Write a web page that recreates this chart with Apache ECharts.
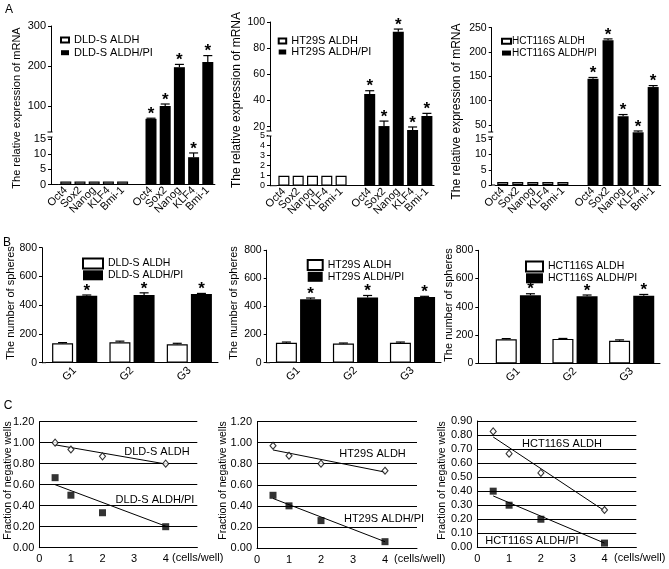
<!DOCTYPE html>
<html><head><meta charset="utf-8">
<script src="https://cdn.jsdelivr.net/npm/echarts@6/dist/echarts.min.js"></script>
<style>html,body{margin:0;padding:0;background:#fff}#c{width:669px;height:569px}</style>
</head><body><div id="c"></div>
<script>
const FONT = '"Liberation Sans", Arial, Helvetica, sans-serif';

// ---------- Panel A: relative mRNA expression ----------
const genes = ['Oct4','Sox2','Nanog','KLF4','Bmi-1'];
const dldAldhA = [1,1,1,1,1];
const dldPiA = [68,100,197,9,210];
const dldPiAErr = [1.5,5,7,1.4,16];
const ht29AldhA = [1,1,1,1,1];
const ht29PiA = [45,20.5,92.6,17.5,28.2];
const ht29PiAErr = [2.5,3.8,2,2.3,2];
const hctAldhA = [1,1,1,1,1];
const hctPiA = [145,224,68,35,128];
const hctPiAErr = [2.7,3,3.5,2.7,3];
const ticksA1Up = [100,200,300], ticksA1Low = [0,5,10,15];
const ticksA2Up = [20,40,60,80,100], ticksA2Low = [0,1,2,3,4,5];
const ticksA3Up = [50,100,150,200,250], ticksA3Low = [0,5,10,15];

// ---------- Panel B: number of spheres ----------
const groups = ['G1','G2','G3'];
const dldAldhB = [135,142,128], dldAldhBErr = [5,8,7];
const dldPiB = [466,471,478], dldPiBErr = [5,15,4];
const ht29AldhB = [142,136,142], ht29AldhBErr = [5,4,5];
const ht29PiB = [452,463,468], ht29PiBErr = [8,15,4];
const hctAldhB = [171,174,161], hctAldhBErr = [5,3,6];
const hctPiB = [483,476,478], hctPiBErr = [10,8,10];

// ---------- Panel C: limiting dilution ----------
const cellsPerWell = [0.5,1,2,4];
const dldAldhC = [1.00,0.935,0.87,0.80];
const dldPiC = [0.667,0.50,0.333,0.20];
const dldAldhFit = [[0.5,0.98],[4,0.797]];
const dldPiFit = [[0.5,0.60],[4,0.205]];
const ht29AldhC = [0.97,0.875,0.80,0.733];
const ht29PiC = [0.50,0.40,0.26,0.06];
const ht29AldhFit = [[0.5,0.93],[4,0.72]];
const ht29PiFit = [[0.5,0.47],[4,0.06]];
const hctAldhC = [0.826,0.667,0.53,0.266];
const hctPiC = [0.40,0.30,0.20,0.03];
const hctAldhFit = [[0.5,0.786],[4,0.26]];
const hctPiFit = [[0.5,0.366],[4,0.03]];

const grids = [], xAxes = [], yAxes = [], series = [], legends = [], graphics = [];
const BLACK = '#000';
const whiteStyle = {color:'#fff', borderColor:BLACK, borderWidth:1.2};
const blackStyle = {color:BLACK};
const pad = n => Array(n).fill('-');

function txt(x, y, text, fs, opts) {
  opts = opts || {};
  graphics.push({type:'text', x, y, rotation: opts.rot || 0, z:100,
    style:{text, fontSize:fs, fontFamily:FONT, fill:BLACK, align: opts.align || 'center', verticalAlign:'middle', fontWeight: opts.bold ? 'bold' : 'normal'}});
}
function hline(x1, x2, y) {
  graphics.push({type:'line', z:100, shape:{x1, y1:y, x2, y2:y}, style:{stroke:BLACK, lineWidth:1}});
}

function errSeries(xi, yi, data, dx, star) {
  return {type:'custom', xAxisIndex:xi, yAxisIndex:yi, data, z:5, silent:true, encode:{x:0, y:1},
    renderItem: (params, api) => {
      const v = api.value(1), e = api.value(2);
      const p0 = api.coord([api.value(0), v]);
      const p1 = api.coord([api.value(0), v + e]);
      const cx = p0[0] + dx;
      const ch = [
        {type:'line', shape:{x1:cx, y1:p0[1], x2:cx, y2:p1[1]}, style:{stroke:BLACK, lineWidth:1.2}},
        {type:'line', shape:{x1:cx-4.5, y1:p1[1], x2:cx+4.5, y2:p1[1]}, style:{stroke:BLACK, lineWidth:1.2}}
      ];
      if (star) ch.push({type:'text', x:cx, y:p1[1]-4, style:{text:'*', fontSize:17, fontWeight:'bold', fontFamily:FONT, fill:BLACK, align:'center', verticalAlign:'middle'}});
      return {type:'group', children:ch};
    }};
}

function yStyle(ticks, fs) {
  return {axisLine:{show:true, lineStyle:{color:BLACK, width:1}},
    axisTick:{show:true, length:3, customValues:ticks, lineStyle:{color:BLACK}},
    axisLabel:{customValues:ticks, fontSize:fs, color:BLACK, margin:5, fontFamily:FONT,
      formatter: v => ticks.indexOf(v) >= 0 ? String(v) : ''},
    splitLine:{show:false}};
}

function buildA(c) {
  const cats = genes.concat([''], genes);
  const gU = grids.push({left:c.left, top:c.top, width:c.width, height:c.brk-c.top, outerBoundsMode:'none'}) - 1;
  const gL = grids.push({left:c.left, top:c.brk, width:c.width, height:c.bottom-c.brk, outerBoundsMode:'none'}) - 1;
  const xU = xAxes.push({gridIndex:gU, type:'category', data:cats, show:false}) - 1;
  const xL = xAxes.push({gridIndex:gL, type:'category', data:cats,
    axisLine:{lineStyle:{color:BLACK, width:1}}, axisTick:{show:false},
    axisLabel:{interval:0, rotate:45, margin:4, fontSize:11, color:BLACK, fontFamily:FONT}}) - 1;
  const off = c.left - c.axisX;
  const yU = yAxes.push(Object.assign({gridIndex:gU, type:'value', min:c.upMin, max:c.upMax, offset:off}, yStyle(c.upTicks, c.fs))) - 1;
  const yL = yAxes.push(Object.assign({gridIndex:gL, type:'value', min:0, max:c.lowMax, offset:off}, yStyle(c.lowTicks, c.fsLow || c.fs))) - 1;
  series.push({type:'bar', name:c.names[0], xAxisIndex:xL, yAxisIndex:yL, data:c.white.concat(pad(6)), barWidth:11, barGap:'-100%', itemStyle:whiteStyle, clip:true});
  series.push({type:'bar', name:c.names[1], xAxisIndex:xL, yAxisIndex:yL, data:pad(6).concat(c.black), barWidth:11, barGap:'-100%', itemStyle:blackStyle, clip:true});
  series.push({type:'bar', name:c.names[1], xAxisIndex:xU, yAxisIndex:yU, data:pad(6).concat(c.black.map(v => v > c.upMin ? v : '-')), barWidth:11, itemStyle:blackStyle, clip:true});
  const eU = [], eL = [];
  c.black.forEach((v, i) => (v > c.upMin ? eU : eL).push([6 + i, v, c.err[i]]));
  series.push(errSeries(xU, yU, eU, 0, true));
  series.push(errSeries(xL, yL, eL, 0, true));
  legends.push(Object.assign({data:c.names, orient:'vertical', icon:'rect', selectedMode:false, itemGap:c.lg.gap,
    itemWidth:c.lg.w, itemHeight:c.lg.h, left:c.lg.left, top:c.lg.top,
    textStyle:{fontSize:c.lg.fs, lineHeight:c.lg.lh, color:BLACK, fontFamily:FONT, padding:c.lg.pad || 0}}));
  // x axis line reaching the y axis, and the axis break marks
  hline(c.axisX, c.left, c.bottom);
  graphics.push({type:'rect', z:99, shape:{x:c.axisX-2, y:c.brk-2, width:4, height:5}, style:{fill:'#fff'}});
  hline(c.axisX-3.5, c.axisX+1.5, c.brk-2);
  hline(c.axisX-3.5, c.axisX+1.5, c.brk+3);
  txt(c.nameX, c.nameY, 'The relative expression of mRNA', c.nameFs, {rot:Math.PI/2});
}

function buildB(c) {
  const g = grids.push({left:c.left, top:c.top, width:c.width, height:c.bottom-c.top, outerBoundsMode:'none'}) - 1;
  const x = xAxes.push({gridIndex:g, type:'category', data:groups,
    axisLine:{lineStyle:{color:BLACK, width:1}}, axisTick:{show:false},
    axisLabel:{interval:0, rotate:45, margin:6, fontSize:11, color:BLACK, fontFamily:FONT}}) - 1;
  const y = yAxes.push({gridIndex:g, type:'value', min:0, max:800, interval:200, offset:c.left-c.axisX,
    axisLine:{show:true, lineStyle:{color:BLACK, width:1}}, axisTick:{show:true, length:3, lineStyle:{color:BLACK}},
    axisLabel:{fontSize:10.5, color:BLACK, margin:5, fontFamily:FONT}, splitLine:{show:false}}) - 1;
  series.push({type:'bar', name:c.names[0], xAxisIndex:x, yAxisIndex:y, data:c.white, barWidth:21, barGap:'15%', itemStyle:whiteStyle});
  series.push({type:'bar', name:c.names[1], xAxisIndex:x, yAxisIndex:y, data:c.black, barWidth:21, barGap:'15%', itemStyle:blackStyle});
  series.push(errSeries(x, y, c.white.map((v, i) => [i, v, c.whiteErr[i]]), -12.1, false));
  series.push(errSeries(x, y, c.black.map((v, i) => [i, v, c.blackErr[i]]), 12.1, true));
  legends.push({data:c.names, orient:'vertical', icon:'rect', selectedMode:false, itemGap:0.3,
    itemWidth:c.lg.w, itemHeight:10, left:c.lg.left, top:c.lg.top,
    textStyle:{fontSize:10.5, lineHeight:11, color:BLACK, fontFamily:FONT}});
  hline(c.axisX, c.left, c.bottom);
  txt(c.nameX, c.nameY, 'The number of spheres', 11, {rot:Math.PI/2});
}

function buildC(c) {
  const g = grids.push({left:c.left, top:c.top, width:c.width, height:c.bottom-c.top, outerBoundsMode:'none'}) - 1;
  const x = xAxes.push({gridIndex:g, type:'value', min:0, max:5, interval:1,
    axisLine:{show:true, lineStyle:{color:BLACK, width:1}}, axisTick:{show:false}, splitLine:{show:false},
    axisLabel:{fontSize:11, color:BLACK, margin:6, fontFamily:FONT, formatter: v => v <= 4 ? String(v) : ''}}) - 1;
  const y = yAxes.push({gridIndex:g, type:'value', min:0, max:c.ymax, interval:c.step,
    axisLine:{show:true, lineStyle:{color:BLACK, width:1}}, axisTick:{show:false},
    axisLabel:{fontSize:11, color:BLACK, margin:5, fontFamily:FONT, formatter: v => v.toFixed(2)},
    splitLine:{show:true, lineStyle:{color:BLACK, width:1}}}) - 1;
  const line = d => ({type:'line', xAxisIndex:x, yAxisIndex:y, data:d, symbol:'none', silent:true, lineStyle:{color:BLACK, width:1}, z:3});
  series.push(line(c.aldhFit), line(c.piFit));
  series.push({type:'scatter', xAxisIndex:x, yAxisIndex:y, data:cellsPerWell.map((v, i) => [v, c.aldh[i]]), symbol:'diamond', symbolSize:[6,7], itemStyle:{color:'#fff', borderColor:BLACK, borderWidth:1.1}, z:4});
  series.push({type:'scatter', xAxisIndex:x, yAxisIndex:y, data:cellsPerWell.map((v, i) => [v, c.pi[i]]), symbol:'rect', symbolSize:7, itemStyle:{color:BLACK}, z:4});
  txt(c.lab1[0], c.lab1[1], c.lab1[2], 11);
  txt(c.lab2[0], c.lab2[1], c.lab2[2], 11);
  txt(c.unitX, c.bottom + 10.5, '(cells/well)', 11, {align:'left'});
  txt(c.nameX, c.nameY, 'Fraction of negative wells', 10.5, {rot:Math.PI/2});
}

buildA({axisX:51, left:58.7, width:156.2, top:26, brk:134, bottom:184.5, upMin:30, upMax:300, lowMax:16.65,
  upTicks:ticksA1Up, lowTicks:ticksA1Low, fs:11, names:['DLD-S ALDH','DLD-S ALDH/PI'],
  white:dldAldhA, black:dldPiA, err:dldPiAErr, nameX:16.5, nameY:108, nameFs:11,
  lg:{left:55, top:29, w:8, h:5, fs:11, lh:12, gap:0.7}});
buildA({axisX:270, left:276.75, width:157.3, top:22, brk:133, bottom:185.7, upMin:15.2, upMax:100, lowMax:5.27,
  upTicks:ticksA2Up, lowTicks:ticksA2Low, fs:10.5, fsLow:9, names:['HT29S ALDH','HT29S ALDH/PI'],
  white:ht29AldhA, black:ht29PiA, err:ht29PiAErr, nameX:236.5, nameY:100, nameFs:12,
  lg:{left:272.7, top:30.5, w:7.5, h:5, fs:11, lh:8, gap:0}});
buildA({axisX:491.7, left:495.2, width:165.5, top:27.7, brk:134, bottom:185, upMin:31.5, upMax:250, lowMax:16.74,
  upTicks:ticksA3Up, lowTicks:ticksA3Low, fs:10.5, names:['HCT116S ALDH','HCT116S ALDH/PI'],
  white:hctAldhA, black:hctPiA, err:hctPiAErr, nameX:456.7, nameY:111.5, nameFs:12,
  lg:{left:496, top:30.5, w:9, h:5, fs:10, lh:11.7, gap:0, pad:[0,0,0,-4]}});

buildB({axisX:42, left:46, width:172, top:247.7, bottom:362.7, names:['DLD-S ALDH','DLD-S ALDH/PI'],
  white:dldAldhB, whiteErr:dldAldhBErr, black:dldPiB, blackErr:dldPiBErr, nameX:11, nameY:303,
  lg:{left:77, top:252.5, w:20}});
buildB({axisX:266.7, left:270, width:171, top:250.2, bottom:362.7, names:['HT29S ALDH','HT29S ALDH/PI'],
  white:ht29AldhB, whiteErr:ht29AldhBErr, black:ht29PiB, blackErr:ht29PiBErr, nameX:233.5, nameY:303,
  lg:{left:301.7, top:254, w:15}});
buildB({axisX:478.3, left:490, width:170, top:250.3, bottom:363.5, names:['HCT116S ALDH','HCT116S ALDH/PI'],
  white:hctAldhB, whiteErr:hctAldhBErr, black:hctPiB, blackErr:hctPiBErr, nameX:448.5, nameY:305,
  lg:{left:520, top:255.5, w:17}});

buildC({left:39.3, width:158, top:421.7, bottom:547.7, ymax:1.2, step:0.2, aldh:dldAldhC, pi:dldPiC,
  aldhFit:dldAldhFit, piFit:dldPiFit, lab1:[157,452.3,'DLD-S ALDH'], lab2:[155,500,'DLD-S ALDH/PI'],
  unitX:172, nameX:8, nameY:480.5});
buildC({left:257, width:160, top:421.5, bottom:548, ymax:1.2, step:0.2, aldh:ht29AldhC, pi:ht29PiC,
  aldhFit:ht29AldhFit, piFit:ht29PiFit, lab1:[372.5,454,'HT29S ALDH'], lab2:[384,519.3,'HT29S ALDH/PI'],
  unitX:394, nameX:223.5, nameY:480.5});
buildC({left:477.3, width:159, top:421, bottom:547.3, ymax:0.9, step:0.1, aldh:hctAldhC, pi:hctPiC,
  aldhFit:hctAldhFit, piFit:hctPiFit, lab1:[562,444,'HCT116S ALDH'], lab2:[532,541,'HCT116S ALDH/PI'],
  unitX:614, nameX:442.5, nameY:480.5});

txt(9, 10, 'A', 12);
txt(7, 243, 'B', 12);
txt(8, 406, 'C', 12);

const chart = echarts.init(document.getElementById('c'), null, {renderer:'canvas'});
chart.setOption({
  animation:false,
  backgroundColor:'#fff',
  textStyle:{fontFamily:FONT},
  grid:grids, xAxis:xAxes, yAxis:yAxes, series, legend:legends,
  graphic:{elements:graphics}
});
</script>
</body></html>
